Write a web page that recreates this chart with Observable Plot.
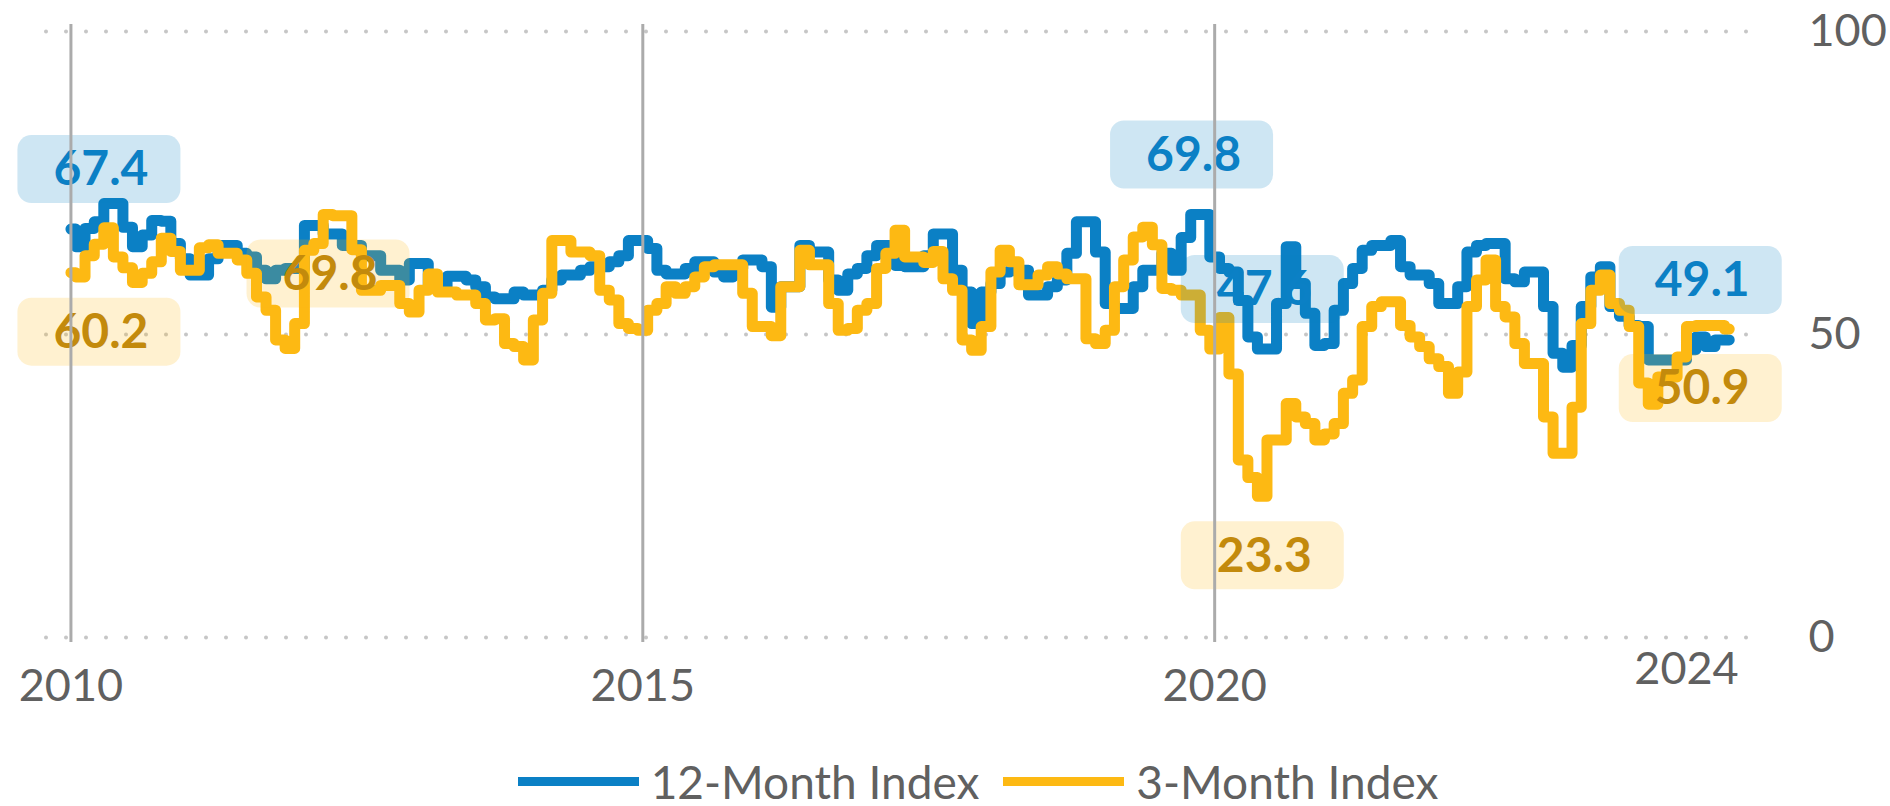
<!DOCTYPE html>
<html><head><meta charset="utf-8">
<script src="https://cdn.jsdelivr.net/npm/d3@7"></script>
<script src="https://cdn.jsdelivr.net/npm/@observablehq/plot@0.6"></script>
<style>
html,body{margin:0;padding:0;background:#fff;}
body{width:1890px;height:806px;overflow:hidden;font-family:Lato, sans-serif;}
#legend{display:flex;justify-content:center;align-items:center;height:60px;margin-top:21px;padding-left:66px;color:#606060;font-size:46px;}
.item{display:flex;align-items:center;margin:0 12px;}
.sw{width:121px;height:9px;margin-right:12px;}
g[aria-label="value label"] text{letter-spacing:4px;}
</style></head>
<body><div id="chart"></div><div id="legend"></div>
<script>
// ---- data ----
const startYear = 2010;
const seriesNames = ["12-Month Index", "3-Month Index"];
const seriesColors = ["#0b80c5", "#fdb913"];
const labelTextColors = ["#0b80c5", "#c38a0c"];

const index12 = [
 67.4,64.5,67.5,68.6,71.6,71.6,67.7,64.5,66.4,68.8,
 68.7,65,62.5,59.8,59.8,62.5,64.7,64.7,63.4,62.8,
 60.6,59.2,60.6,60.9,60.9,68,68,66.6,66.6,64.7,
 64.7,63,63,60.6,60.6,59,61.7,61.7,57.9,57.9,
 59.6,59.6,59,57.9,56.2,55.9,55.9,57,56.5,56.5,
 57.3,59,59.8,59.8,60.6,61.2,61.2,62,63,65.5,
 65.5,64.2,60.6,60,60,60.9,62,62,60.3,59.5,
 60.9,62.3,62.3,61.2,54.5,57.9,57.9,64.7,63.6,63.6,
 59,57.3,60,60.9,63,64.7,64.7,61.4,61.2,61.2,
 63,66.6,66.6,60.6,57,51.8,57,58.4,60.3,60.5,
 60.6,56.5,56.5,57.9,59,63.4,68.6,68.6,63.6,55.1,
 54.3,54.3,57.9,60.6,60.6,63.4,60.6,66,69.8,69.8,
 62.8,60.9,60.3,55.6,49.6,47.6,47.6,55.1,64.5,58.4,
 53.5,48.2,48.5,54,58.4,60.9,63.9,64.7,64.7,65.5,
 61.2,59.8,59.8,58.4,55.1,55.1,57.9,63.6,64.7,65,
 65,59.2,58.7,60.3,60.3,54.6,46.9,44.6,48.2,54.6,
 59.5,61.2,54.6,53,51.5,51.3,45.8,45.8,45.8,45.8,
 47.5,49.6,48,49.1,49.1
];
const index3 = [
 60.2,59.5,63,64.9,67.6,62.8,61,58.6,60.1,62,
 65.9,63.7,60.6,60.6,64.3,64.8,63.4,63.4,62.3,60.1,
 56.2,54,49.1,47.7,51.8,63.9,65,69.8,69.6,69.6,
 64,57.3,57.3,58.1,58.1,55.1,53.7,57.3,60,57,
 57,56.5,56.5,55.1,52.4,52.6,48.5,48,45.8,52.4,
 56.8,65.5,65.5,63.6,63.6,63,57.3,55.7,51.8,51,
 50.7,54,55.1,57.9,56.8,57.9,59.5,61.2,61.5,61.5,
 61.5,56.8,51.3,51.3,49.8,57.9,57.9,63.9,61.5,61.5,
 55.1,50.7,51,54,55.1,60.9,63.4,67.2,62.8,62.8,
 61.9,63.7,59.2,57.3,49.1,47.4,51.3,60.3,63.9,62,
 58.2,58.2,59.8,61.2,60,59.2,59.2,49.3,48.5,50.7,
 57.9,62.3,66.1,67.7,64.8,57.6,57.3,56.5,56.5,50.7,
 47.6,52.8,43.5,29.3,26.4,23.3,32.6,32.6,38.6,36.4,
 35.3,32.6,33.6,35.3,40.3,42.5,51.3,54.6,55.4,55.4,
 51.5,49.6,48,46,44.7,40.3,43.8,54.6,59,62.3,
 54.6,52.9,48.5,45.2,45.2,36.4,30.4,30.4,38,51.8,
 57.3,59.8,55.1,54,51.3,42,38.5,43,43,46.3,
 51.3,51.5,51.5,51.5,50.9
];

const gridYears = [2010, 2015, 2020];
const yTicks = [0, 50, 100];
const endTickLabel = "2024";
const endTickMonth = 169.5; // months after Jan 2010

// annotated values
const labelSeries = [0, 1, 1, 0, 0, 1, 0, 1];
const labelMonth = [0, 0, 27, 118, 125, 125, 174, 174];
const labelValue = [67.4, 60.2, 69.8, 69.8, 47.6, 23.3, 49.1, 50.9];

// ---- build ----
const start = new Date(Date.UTC(startYear, 0, 1));
const monthDate = (m) => {
  const whole = Math.floor(m), frac = m - whole;
  const a = d3.utcMonth.offset(start, whole), b = d3.utcMonth.offset(start, whole + 1);
  return new Date(+a + frac * (b - a));
};
const rows = [];
[index12, index3].forEach((arr, s) => arr.forEach((v, i) => rows.push({series: seriesNames[s], date: monthDate(i), value: v})));

const labelSide = ["above","below","below","above","above","below","above","below"];
const labelShift = [28, 28, 0, -4, 0, 0, -29, -29];

const box = {draw(ctx) {
  const w = 163, h = 68, r = 14, x0 = -w/2, y0 = -h/2, x1 = w/2, y1 = h/2;
  ctx.moveTo(x0 + r, y0);
  ctx.arcTo(x1, y0, x1, y1, r);
  ctx.arcTo(x1, y1, x0, y1, r);
  ctx.arcTo(x0, y1, x0, y0, r);
  ctx.arcTo(x0, y0, x1, y0, r);
  ctx.closePath();
}};

const labelMarks = [];
labelValue.forEach((v, i) => {
  const d = [{date: monthDate(labelMonth[i]), value: v, text: v.toFixed(1)}];
  const dy = labelSide[i] === "above" ? -60 : 59;
  const s = labelSeries[i];
  labelMarks.push(Plot.dot(d, {x: "date", y: "value", symbol: box, r: 10, fill: seriesColors[s], fillOpacity: 0.2, stroke: null, dx: labelShift[i], dy}));
  labelMarks.push(Plot.text(d, {x: "date", y: "value", text: "text", dx: labelShift[i] + 2, dy: dy + 1, fill: labelTextColors[s], fontSize: 48, fontWeight: "bold", ariaLabel: "value label"}));
});

const chart = Plot.plot({
  width: 1890, height: 730,
  marginLeft: 46, marginRight: 124, marginTop: 31, marginBottom: 93,
  x: {type: "utc", domain: [new Date(Date.UTC(2009, 9, 15)), new Date(Date.UTC(2024, 9, 28))], label: null},
  y: {domain: [0, 100], label: null},
  style: {fontFamily: "Lato, sans-serif", color: "#606060", background: "white", overflow: "visible"},
  marks: [
    Plot.ruleY(yTicks, {stroke: "#c6c6c6", strokeWidth: 4, strokeDasharray: "0,20", strokeLinecap: "round"}),
    Plot.line(rows, {x: "date", y: "value", z: "series", stroke: "series", curve: "step", strokeWidth: 11, strokeLinejoin: "round", strokeLinecap: "round"}),
    ...labelMarks,
    Plot.ruleX(gridYears.map(y => new Date(Date.UTC(y, 0, 1))), {stroke: "#ababab", strokeWidth: 3, insetTop: -7, insetBottom: -5}),
    Plot.axisX(gridYears.map(y => new Date(Date.UTC(y, 0, 1))), {tickSize: 0, tickPadding: 32, tickFormat: d3.utcFormat("%Y"), fontSize: 45, label: null}),
    Plot.text([endTickLabel], {x: () => monthDate(endTickMonth), text: d => d, frameAnchor: "bottom", lineAnchor: "top", dy: 15, fontSize: 45, fill: "#606060"}),
    Plot.axisY(yTicks, {anchor: "right", tickSize: 0, tickPadding: 42, fontSize: 45, label: null})
  ],
  color: {domain: seriesNames, range: seriesColors}
});
document.getElementById("chart").appendChild(chart);

const legend = document.getElementById("legend");
seriesNames.forEach((n, i) => {
  const it = document.createElement("div"); it.className = "item";
  const sw = document.createElement("span"); sw.className = "sw"; sw.style.background = seriesColors[i];
  const tx = document.createElement("span"); tx.textContent = n;
  it.appendChild(sw); it.appendChild(tx); legend.appendChild(it);
});
</script></body></html>
